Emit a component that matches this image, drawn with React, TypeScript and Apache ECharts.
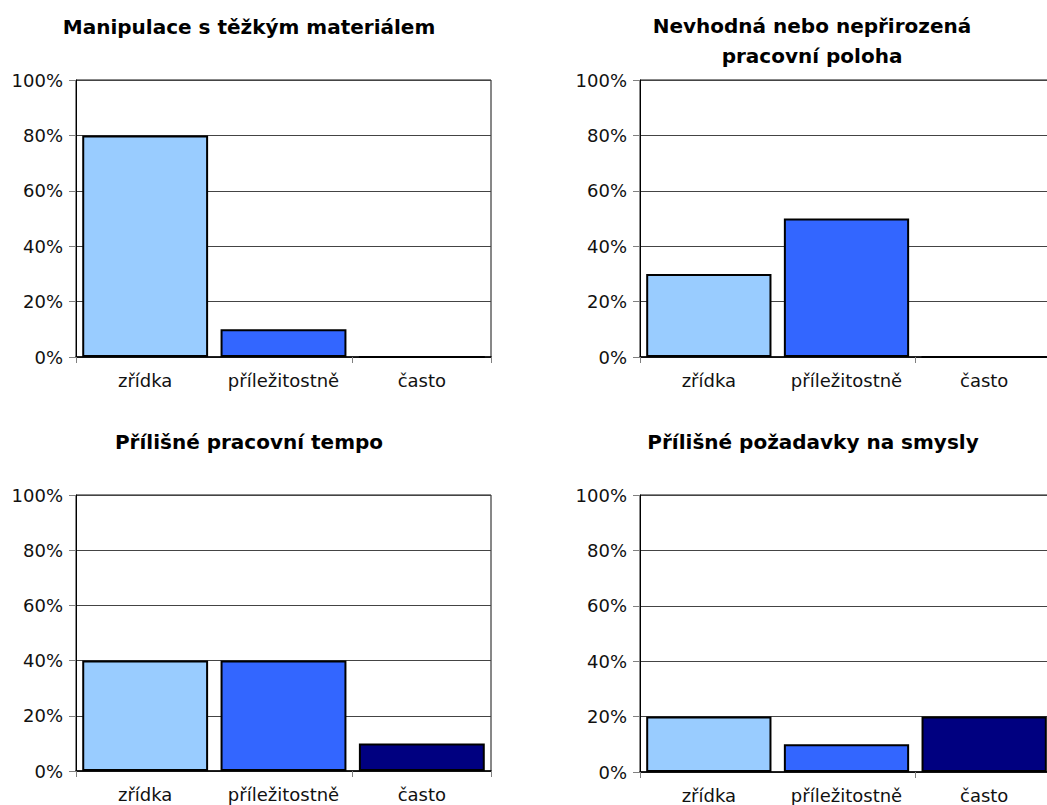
import React, { useEffect, useRef } from "react";
import * as echarts from "echarts";

// Frequency categories shared by all four panels
const categories = ["zřídka", "příležitostně", "často"];

// Panel titles
const titles = [
  "Manipulace s těžkým materiálem",
  "Nevhodná nebo nepřirozená\npracovní poloha",
  "Přílišné pracovní tempo",
  "Přílišné požadavky na smysly",
];

// Share of responses (%) per category, one array per panel
const heavyMaterial = [80, 10, 0];
const workPosture = [30, 50, 0];
const workPace = [40, 40, 10];
const sensoryDemands = [20, 10, 20];

const yTicks = [0, 20, 40, 60, 80, 100];

const barColors = ["#99CCFF", "#3366FF", "#000080"];

const FONT = "DejaVu Sans";

export default function App() {
  const ref = useRef<HTMLDivElement>(null);

  useEffect(() => {
    if (!ref.current) return;
    document.body.style.overflow = "hidden";
    const chart = echarts.init(ref.current, null, { renderer: "svg" });

    const panels = [heavyMaterial, workPosture, workPace, sensoryDemands];
    const grids = [
      { left: 76, top: 80, width: 415, height: 277 },
      { left: 640, top: 80, width: 413, height: 277 },
      { left: 76, top: 495, width: 415, height: 276 },
      { left: 640, top: 495, width: 413, height: 277 },
    ];
    const titlePos = [
      { x: 249, y: 27 },
      { x: 812, y: 41 },
      { x: 249, y: 442 },
      { x: 813, y: 442 },
    ];

    const yMax = yTicks[yTicks.length - 1];
    const yStep = yTicks[1] - yTicks[0];

    chart.setOption({
      animation: false,
      backgroundColor: "#ffffff",
      grid: grids.map((g) => ({
        ...g,
        show: true,
        borderColor: "#111",
        borderWidth: 1,
        backgroundColor: "transparent",
        containLabel: false,
      })),
      xAxis: grids.map((_, i) => ({
        type: "category",
        gridIndex: i,
        data: categories,
        boundaryGap: true,
        axisLine: { show: true, lineStyle: { color: "#000", width: 1.5 } },
        axisTick: {
          show: true,
          interval: 1,
          length: 6,
          lineStyle: { color: "#808080", width: 1 },
        },
        axisLabel: {
          interval: 0,
          margin: 14,
          color: "#111",
          fontFamily: FONT,
          fontSize: 18,
        },
        splitLine: { show: false },
      })),
      yAxis: grids.map((_, i) => ({
        type: "value",
        gridIndex: i,
        min: yTicks[0],
        max: yMax,
        interval: yStep,
        axisLine: { show: true, lineStyle: { color: "#000", width: 1 } },
        axisTick: {
          show: true,
          length: 7,
          lineStyle: { color: "#808080", width: 1 },
        },
        axisLabel: {
          formatter: "{value}%",
          margin: 13,
          color: "#111",
          fontFamily: FONT,
          fontSize: 18,
        },
        splitLine: { show: true, lineStyle: { color: "#444", width: 1 } },
      })),
      series: panels.map((values, i) => ({
        type: "bar",
        xAxisIndex: i,
        yAxisIndex: i,
        barCategoryGap: "9%",
        data: values.map((v, j) => ({
          value: v,
          itemStyle: {
            color: barColors[j],
            borderColor: "#000",
            borderWidth: 2,
          },
        })),
      })),
      graphic: titles.map((t, i) => ({
        type: "text",
        x: titlePos[i].x,
        y: titlePos[i].y,
        style: {
          text: t,
          fontFamily: FONT,
          fontWeight: "bold",
          fontSize: 20,
          lineHeight: 30,
          fill: "#000",
          align: "center",
          verticalAlign: "middle",
        },
      })),
    });

    return () => chart.dispose();
  }, []);

  return (
    <div
      ref={ref}
      style={{ position: "fixed", left: 0, top: 0, width: 1060, height: 805 }}
    />
  );
}
